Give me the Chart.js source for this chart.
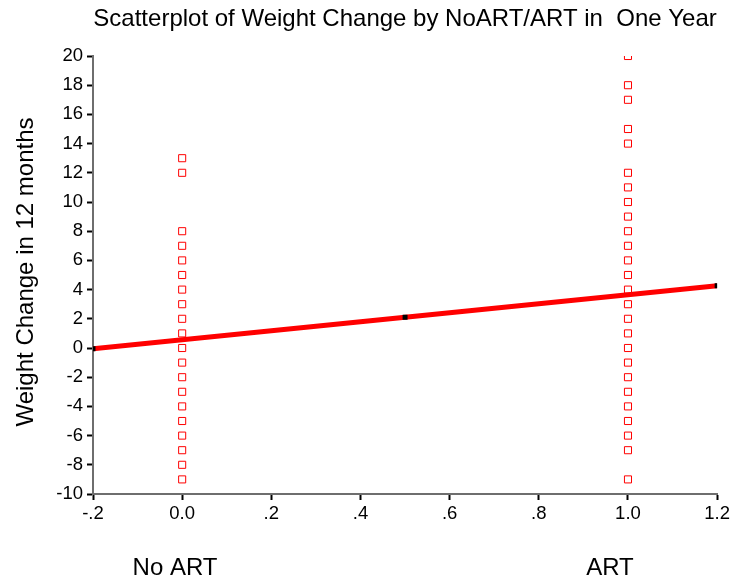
<!DOCTYPE html>
<html>
<head>
<meta charset="utf-8">
<script src="https://cdn.jsdelivr.net/npm/chart.js@4.4.0/dist/chart.umd.min.js"></script>
<style>
  html, body { margin: 0; padding: 0; background: #fff; }
  #wrap { width: 733px; height: 584px; }
</style>
</head>
<body>
<div id="wrap"><canvas id="myChart" width="733" height="584"></canvas></div>
<script>
// weight change (kg) per person, 0 = No ART, 1 = ART
const noArtValues = [13, 12, 8, 7, 6, 5, 4, 3, 2, 1, 0, -1, -2, -3, -4, -5, -6, -7, -8, -9];
const artValues = [20, 18, 17, 15, 14, 12, 11, 10, 9, 8, 7, 6, 5, 4, 3, 2, 1, 0, -1, -2, -3, -4, -5, -6, -7, -9];
// fitted line
const fitX = [-0.2, 0.5, 1.2];
const fitY = [-0.05, 2.1, 4.27];
const xTickLabels = ['-.2', '0.0', '.2', '.4', '.6', '.8', '1.0', '1.2'];
const groupLabels = ['No ART', 'ART'];

const chartTitle = 'Scatterplot of Weight Change by NoART/ART in  One Year';
const yTitle = 'Weight Change in 12 months';

const FONT = '"Liberation Sans", Arial, sans-serif';

const extraText = {
    id: 'extraText',
    afterDraw(chart) {
        const ctx = chart.ctx;
        const area = chart.chartArea;
        ctx.save();
        ctx.fillStyle = '#000';
        ctx.textAlign = 'center';
        ctx.textBaseline = 'middle';
        ctx.font = '24px ' + FONT;
        ctx.fillText(chartTitle, (area.left + area.right) / 2, 19);
        // group labels under the axis
        ctx.fillText(groupLabels[0], 175, 568);
        ctx.fillText(groupLabels[1], 610, 568);
        // y axis title
        ctx.translate(26, 272);
        ctx.rotate(-Math.PI / 2);
        ctx.fillText(yTitle, 0, 0);
        ctx.restore();
    }
};

const pointStyle = {
    pointStyle: 'rect',
    pointRadius: 5,
    pointHoverRadius: 5,
    borderColor: '#ff0000',
    backgroundColor: 'rgba(0,0,0,0)',
    borderWidth: 1,
    showLine: false
};

const ctx = document.getElementById('myChart').getContext('2d');
new Chart(ctx, {
    type: 'scatter',
    data: {
        datasets: [
            Object.assign({ label: groupLabels[0], data: noArtValues.map(v => ({ x: 0, y: v })) }, pointStyle),
            Object.assign({ label: groupLabels[1], data: artValues.map(v => ({ x: 1, y: v })) }, pointStyle),
            {
                label: 'fit',
                data: fitX.map((x, i) => ({ x: x, y: fitY[i] })),
                showLine: true,
                borderColor: '#ff0000',
                borderWidth: 5,
                pointStyle: 'rect',
                pointRadius: 3.5,
                pointBackgroundColor: '#000',
                pointBorderWidth: 0,
                order: -1
            }
        ]
    },
    options: {
        responsive: false,
        animation: false,
        layout: { padding: { top: 56, right: 15, left: 0, bottom: 0 } },
        plugins: {
            legend: { display: false },
            title: { display: false },
            tooltip: { enabled: false }
        },
        scales: {
            x: {
                type: 'linear',
                min: -0.2,
                max: 1.2,
                afterFit(scale) { scale.height = 90; },
                afterBuildTicks(scale) {
                    scale.ticks = xTickLabels.map((_, i) => ({ value: -0.2 + i * 0.2 }));
                },
                ticks: {
                    color: '#000',
                    font: { family: FONT, size: 18.5 },
                    padding: 3,
                    maxRotation: 0,
                    autoSkip: false,
                    callback: (v, i) => xTickLabels[i]
                },
                grid: { drawOnChartArea: false, tickLength: 6, tickColor: '#000', tickWidth: 2 },
                border: { color: '#6e6e6e', width: 2 }
            },
            y: {
                min: -10,
                max: 20,
                afterFit(scale) { scale.width = 93; },
                ticks: {
                    stepSize: 2,
                    color: '#000',
                    font: { family: FONT, size: 18.5 },
                    padding: 4
                },
                grid: { drawOnChartArea: false, tickLength: 6, tickColor: '#000', tickWidth: 2 },
                border: { color: '#6e6e6e', width: 2 }
            }
        }
    },
    plugins: [extraText]
});
</script>
</body>
</html>
